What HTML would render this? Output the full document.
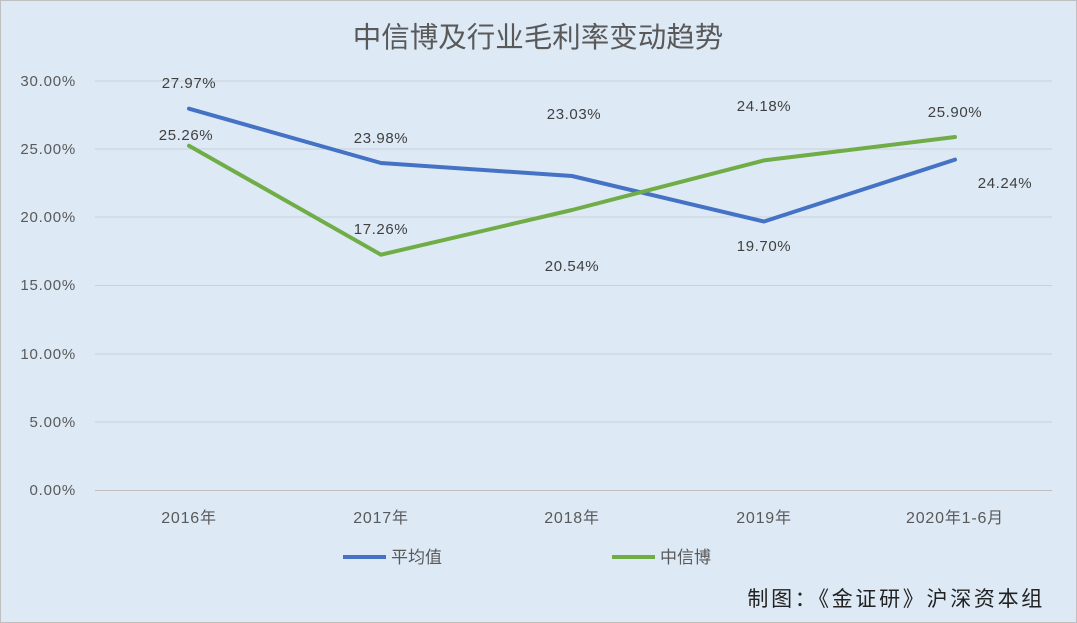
<!DOCTYPE html>
<html><head><meta charset="utf-8"><style>
body{margin:0;width:1077px;height:623px;overflow:hidden;background:#dde9f5;}
svg{display:block}
text{font-family:"Liberation Sans","Noto Sans CJK SC",sans-serif;}
</style></head><body>
<svg width="1077" height="623" viewBox="0 0 1077 623">
<rect x="0.5" y="0.5" width="1076" height="622" fill="#dde9f5" stroke="#bfbfbf"/>
<text x="538" y="47" font-size="28.5" fill="#595959" text-anchor="middle">中信博及行业毛利率变动趋势</text>
<g stroke="#c9d1da" stroke-width="1">
<line x1="95" y1="81" x2="1052" y2="81"/><line x1="95" y1="149" x2="1052" y2="149"/>
<line x1="95" y1="217" x2="1052" y2="217"/><line x1="95" y1="285.5" x2="1052" y2="285.5"/>
<line x1="95" y1="354" x2="1052" y2="354"/><line x1="95" y1="422" x2="1052" y2="422"/>
</g>
<line x1="95" y1="490.5" x2="1052" y2="490.5" stroke="#bfbfbf"/>
<g font-size="15" fill="#595959" text-anchor="end" letter-spacing="0.8">
<text x="76" y="86">30.00%</text><text x="76" y="154">25.00%</text><text x="76" y="222">20.00%</text>
<text x="76" y="290">15.00%</text><text x="76" y="359">10.00%</text><text x="76" y="427">5.00%</text><text x="76" y="495">0.00%</text>
</g>
<g font-size="16" fill="#595959" text-anchor="middle" letter-spacing="0.8">
<text x="189" y="523">2016年</text><text x="381" y="523">2017年</text><text x="572" y="523">2018年</text>
<text x="764" y="523">2019年</text><text x="955" y="523">2020年1-6月</text>
</g>
<polyline points="189,108.7 381,163 572,176 764,221.5 955,159.6" fill="none" stroke="#4472c4" stroke-width="4" stroke-linejoin="round" stroke-linecap="round"/>
<polyline points="189,145.7 381,254.7 572,210 764,160.4 955,137" fill="none" stroke="#70ad47" stroke-width="4" stroke-linejoin="round" stroke-linecap="round"/>
<g font-size="15" fill="#404040" text-anchor="middle" letter-spacing="0.6">
<text x="189" y="88">27.97%</text><text x="381" y="143">23.98%</text><text x="574" y="119">23.03%</text>
<text x="764" y="251">19.70%</text><text x="1005" y="188">24.24%</text>
<text x="186" y="140">25.26%</text><text x="381" y="234">17.26%</text><text x="572" y="271">20.54%</text>
<text x="764" y="111">24.18%</text><text x="955" y="117">25.90%</text>
</g>
<line x1="343" y1="557" x2="386" y2="557" stroke="#4472c4" stroke-width="4"/>
<text x="391" y="563" font-size="17" fill="#595959">平均值</text>
<line x1="612" y1="557" x2="655" y2="557" stroke="#70ad47" stroke-width="4"/>
<text x="660" y="563" font-size="17" fill="#595959">中信博</text>
<text x="1045" y="606" font-size="21" fill="#222" text-anchor="end" letter-spacing="2.7">制图：《金证研》沪深资本组</text>
</svg>
</body></html>
